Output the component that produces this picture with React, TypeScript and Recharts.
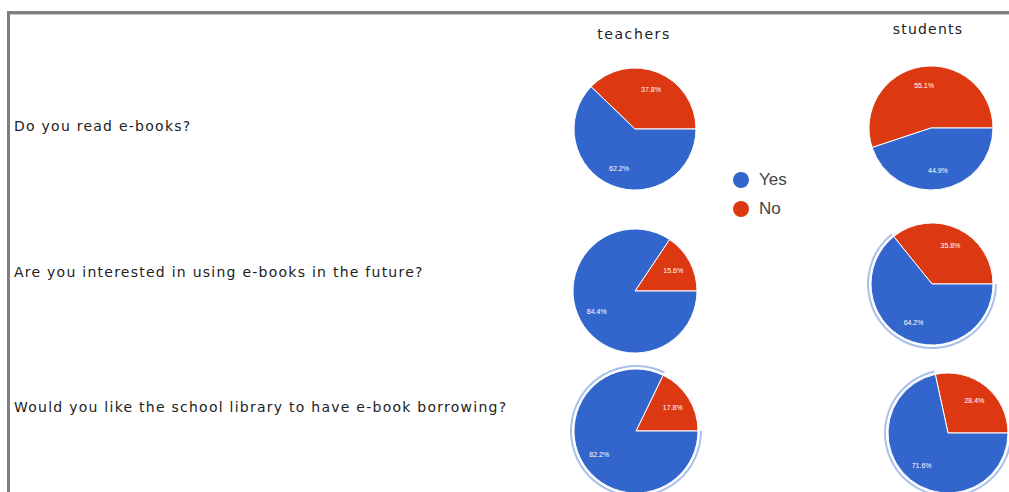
import { PieChart, Pie, Cell } from "recharts";

const answers = ["No", "Yes"];
const questions = [
  "Do you read e-books?",
  "Are you interested in using e-books in the future?",
  "Would you like the school library to have e-book borrowing?",
];
const teachersYes = [62.2, 84.4, 82.2];
const teachersNo = [37.8, 15.6, 17.8];
const studentsYes = [44.9, 64.2, 71.6];
const studentsNo = [55.1, 35.8, 28.4];
const groups = ["teachers", "students"];

const COLORS: Record<string, string> = { Yes: "#3366CC", No: "#DC3912" };
const RING = "#a9c0ec";

// pie placement per row (teachers, students)
const rows = [
  { teachers: { x: 635, y: 129, r: 61, ring: false }, students: { x: 931, y: 128, r: 62, ring: false } },
  { teachers: { x: 635, y: 291, r: 62, ring: false }, students: { x: 932, y: 284, r: 61, ring: true } },
  { teachers: { x: 636, y: 431, r: 62, ring: true }, students: { x: 948, y: 433, r: 60, ring: true } },
];
const rowTextY = [127, 273, 408];

const RAD = Math.PI / 180;

function sliceData(yes: number, no: number) {
  return answers.map((a) => ({ name: a, value: a === "Yes" ? yes : no }));
}

const renderLabel = (props: any) => {
  const { cx, cy, midAngle, outerRadius, value } = props;
  const rr = outerRadius * 0.7;
  const x = cx + rr * Math.cos(-midAngle * RAD);
  const y = cy + rr * Math.sin(-midAngle * RAD);
  return (
    <text
      x={x}
      y={y}
      fill="#ffffff"
      fontSize={7}
      fontFamily="Arial, Liberation Sans, sans-serif"
      textAnchor="middle"
      dominantBaseline="central"
    >
      {value.toFixed(1)}%
    </text>
  );
};

const textFont = "'DejaVu Sans', Verdana, sans-serif";

export default function App() {
  const pies: any[] = [];
  rows.forEach((row, i) => {
    const t = row.teachers;
    const s = row.students;
    pies.push({ key: `t${i}`, ...t, data: sliceData(teachersYes[i], teachersNo[i]) });
    pies.push({ key: `s${i}`, ...s, data: sliceData(studentsYes[i], studentsNo[i]) });
  });

  return (
    <div style={{ position: "absolute", left: 0, top: 0, width: 1009, height: 492, background: "#fff", overflow: "hidden" }}>
      {/* frame */}
      <div style={{ position: "absolute", left: 7, top: 11, right: 0, height: 3, background: "#7f7f7f" }} />
      <div style={{ position: "absolute", left: 10, top: 14, right: 0, height: 1, background: "#c8c8c8" }} />
      <div style={{ position: "absolute", left: 7, top: 11, width: 3, bottom: 0, background: "#7f7f7f" }} />

      <PieChart
        width={1009}
        height={492}
        margin={{ top: 0, right: 0, bottom: 0, left: 0 }}
        style={{ position: "absolute", left: 0, top: 0 }}
      >
        {pies.map((p) => (
          <Pie
            key={p.key}
            data={p.data}
            dataKey="value"
            nameKey="name"
            cx={p.x}
            cy={p.y}
            outerRadius={p.r}
            startAngle={0}
            endAngle={360}
            stroke="#ffffff"
            strokeWidth={1}
            label={renderLabel}
            labelLine={false}
            isAnimationActive={false}
          >
            {p.data.map((d: any) => (
              <Cell key={d.name} fill={COLORS[d.name]} />
            ))}
          </Pie>
        ))}
        {pies
          .filter((p) => p.ring)
          .map((p) => (
            <Pie
              key={p.key + "ring"}
              data={p.data}
              dataKey="value"
              nameKey="name"
              cx={p.x}
              cy={p.y}
              innerRadius={p.r + 2}
              outerRadius={p.r + 4}
              startAngle={0}
              endAngle={360}
              stroke="none"
              isAnimationActive={false}
            >
              {p.data.map((d: any) => (
                <Cell key={d.name} fill={d.name === "Yes" ? RING : "transparent"} />
              ))}
            </Pie>
          ))}
      </PieChart>

      {/* column titles */}
      <div style={{ position: "absolute", left: 584, top: 26, width: 100, textAlign: "center", fontFamily: textFont, fontSize: 14, color: "#222", letterSpacing: 1.6 }}>
        {groups[0]}
      </div>
      <div style={{ position: "absolute", left: 878, top: 21, width: 100, textAlign: "center", fontFamily: textFont, fontSize: 14, color: "#222", letterSpacing: 1.2 }}>
        {groups[1]}
      </div>

      {/* questions */}
      {questions.map((q, i) => (
        <div
          key={q}
          style={{ position: "absolute", left: 14, top: rowTextY[i] - 9, fontFamily: textFont, fontSize: 14, color: "#222", letterSpacing: 1.25, whiteSpace: "nowrap" }}
        >
          {q}
        </div>
      ))}

      {/* legend */}
      {["Yes", "No"].map((a, i) => (
        <div key={a} style={{ position: "absolute", left: 733, top: 170 + i * 29, display: "flex", alignItems: "center", fontFamily: "Arial, 'Liberation Sans', sans-serif", fontSize: 17, color: "#444" }}>
          <span style={{ display: "inline-block", width: 16, height: 16, borderRadius: 8, background: COLORS[a], marginRight: 10 }} />
          {a}
        </div>
      ))}
    </div>
  );
}
